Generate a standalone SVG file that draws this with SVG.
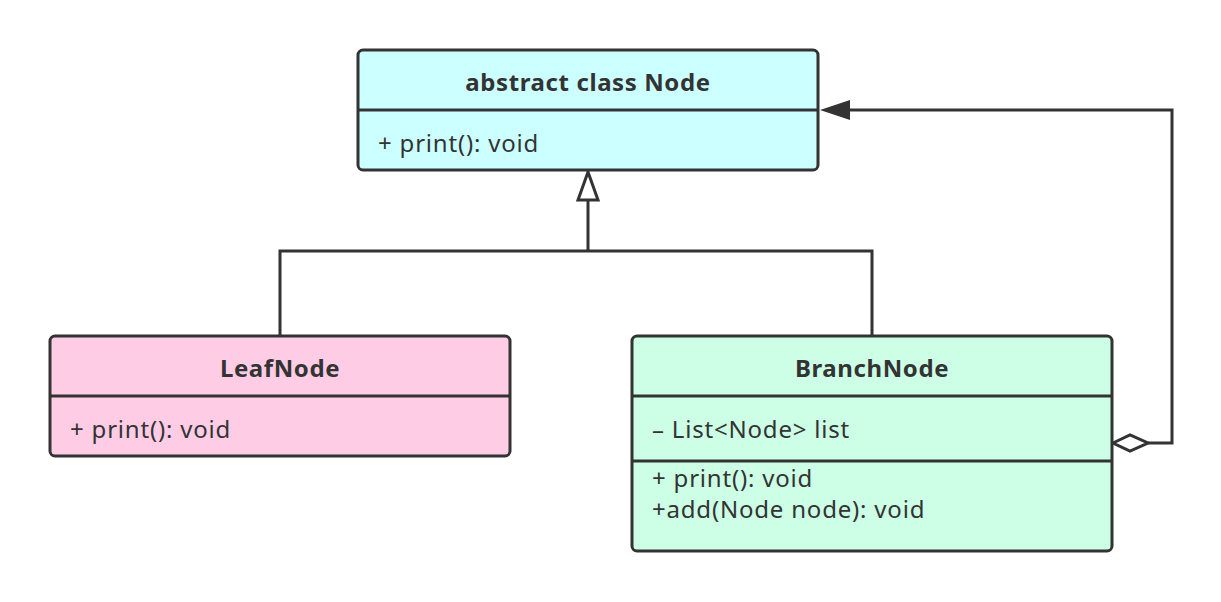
<svg xmlns="http://www.w3.org/2000/svg" width="1221" height="602" viewBox="0 0 1221 602">
<style>
.box{stroke:#333;stroke-width:3}
.div{stroke:#333;stroke-width:3}
.t{font-family:"Noto Sans","Open Sans",sans-serif;font-size:24px;fill:#333;letter-spacing:0.8px}
.b{font-weight:bold;text-anchor:middle;letter-spacing:0.6px}
.c{fill:none;stroke:#333;stroke-width:3}
</style>
<rect width="1221" height="602" fill="#fff"/>
<g id="connectors">
<path class="c" d="M280 336V251H872V336M588 251V200"/>
<polygon points="588,172 578,200 598,200" fill="#fff" stroke="#333" stroke-width="3"/>
<path class="c" d="M1148 443H1172V110H848"/>
<polygon points="820,110 850,100 850,120" fill="#333"/>
<polygon points="1113,443 1130,435 1148,443 1130,451" fill="#fff" stroke="#333" stroke-width="3"/>
</g>
<g id="node-abstract">
<rect class="box" x="358" y="50" width="460" height="120" rx="5" fill="#ccffff"/>
<line class="div" x1="358" y1="110" x2="818" y2="110"/>
<text class="t b" x="588" y="91">abstract class Node</text>
<text class="t" x="378" y="152">+ print(): void</text>
</g>
<g id="node-leaf">
<rect class="box" x="50" y="336" width="460" height="120" rx="5" fill="#ffcce6"/>
<line class="div" x1="50" y1="396" x2="510" y2="396"/>
<text class="t b" x="280" y="377">LeafNode</text>
<text class="t" x="70" y="438">+ print(): void</text>
</g>
<g id="node-branch">
<rect class="box" x="632" y="336" width="480" height="215" rx="5" fill="#ccffe6"/>
<line class="div" x1="632" y1="396" x2="1112" y2="396"/>
<line class="div" x1="632" y1="461" x2="1112" y2="461"/>
<text class="t b" x="872" y="377">BranchNode</text>
<text class="t" x="652" y="438">– List&lt;Node&gt; list</text>
<text class="t" x="652" y="487">+ print(): void</text>
<text class="t" x="652" y="518">+add(Node node): void</text>
</g>
</svg>
